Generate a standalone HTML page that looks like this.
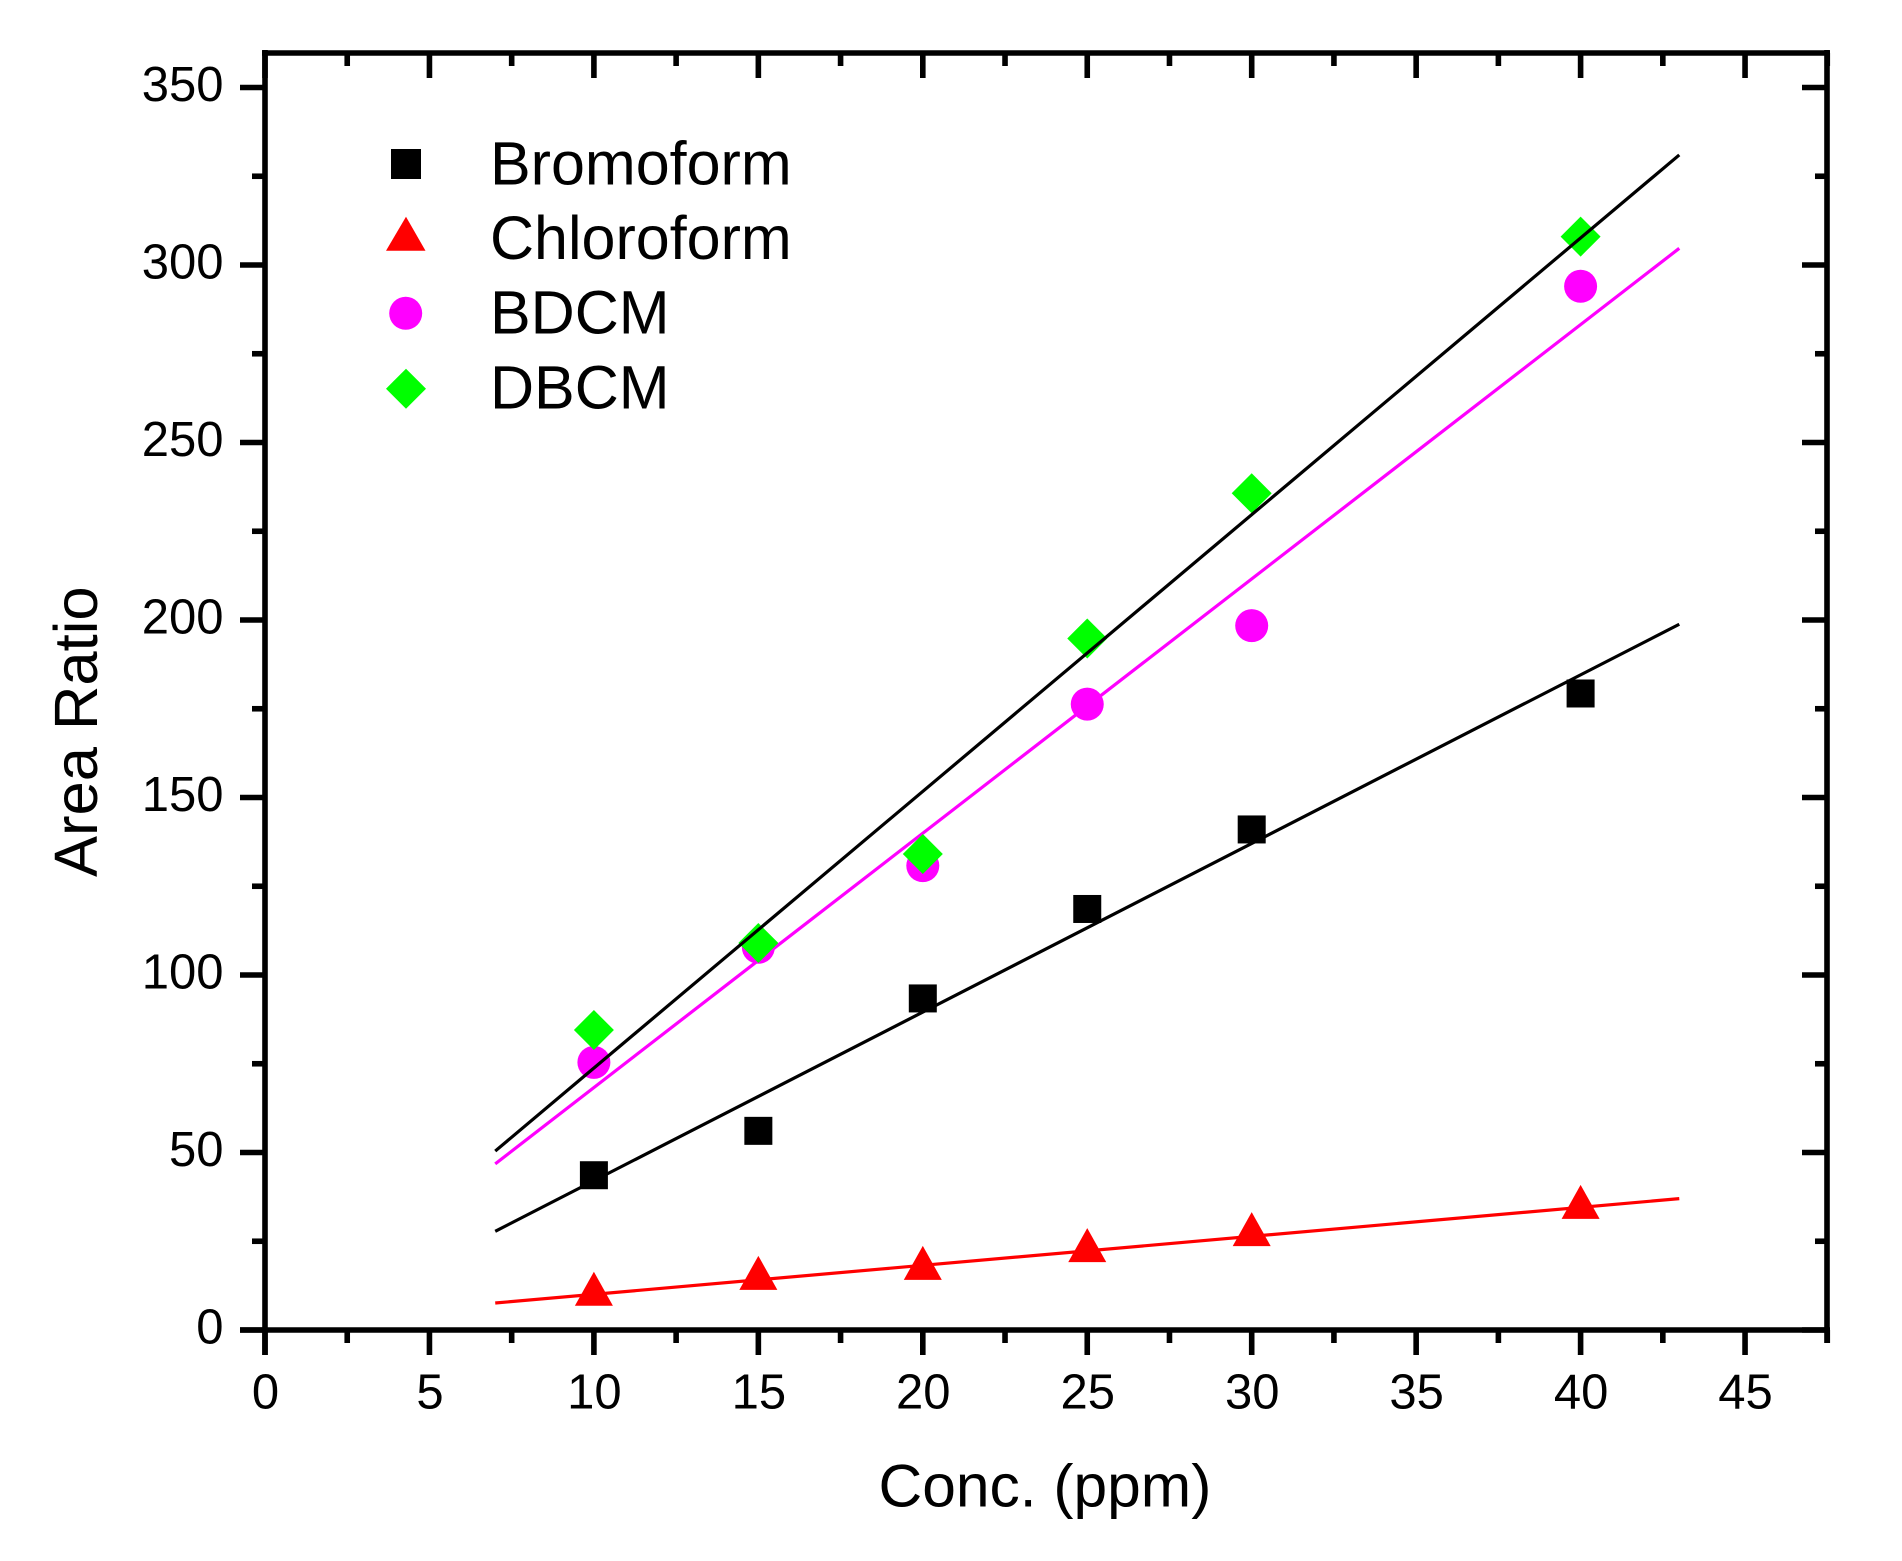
<!DOCTYPE html>
<html lang="en">
<head>
<meta charset="utf-8">
<title>Area Ratio vs Concentration</title>
<style>
html,body{margin:0;padding:0;background:#fff;width:1902px;height:1561px;overflow:hidden}
svg{display:block}
text{font-family:"Liberation Sans",Arial,sans-serif;fill:#000}
.tick{font-size:49px}
.title{font-size:60.5px}
.legend-text{font-size:61px}
.y-title{font-size:61.5px}
</style>
</head>
<body>
<svg id="chart" xmlns="http://www.w3.org/2000/svg" width="1902" height="1561" viewBox="0 0 1902 1561">
  <g id="fits"></g>
  <g id="marks"></g>
  <g id="topfit"></g>
  <g id="axes"></g>
  <g id="legend">
    <rect x="391" y="149" width="30" height="30" fill="#000"/>
    <text class="legend-text" x="490" y="184.3">Bromoform</text>
    <polygon points="406,216.7 425.5,250.7 386,250.7" fill="#f00"/>
    <text class="legend-text" x="490" y="259">Chloroform</text>
    <circle cx="405.7" cy="313.3" r="16.5" fill="#f0f"/>
    <text class="legend-text" x="490" y="333.3">BDCM</text>
    <polygon points="406,368.7 426,388.7 406,408.7 386,388.7" fill="#0f0"/>
    <text class="legend-text" x="490" y="408.3">DBCM</text>
  </g>
  <text class="title" x="878.5" y="1506.7">Conc. (ppm)</text>
  <text class="y-title" transform="translate(96.8 877) rotate(-90)">Area Ratio</text>
</svg>
<script>
const concentrations = [10, 15, 20, 25, 30, 40];
const bromoform = [43.6, 56.1, 93.4, 118.6, 141, 179.3];
const chloroform = [10.2, 14.7, 17.5, 22.5, 27, 34.7];
const bdcm = [75.4, 107.8, 130.8, 176.3, 198.4, 294];
const dbcm = [84.5, 109, 134.1, 194.8, 235.7, 308];

const fitX = [7, 43];
const bromoformFit = [27.8, 198.8];
const chloroformFit = [7.6, 37];
const bdcmFit = [46.8, 304.7];
const dbcmFit = [50.4, 331];

const xMajorTicks = [0, 5, 10, 15, 20, 25, 30, 35, 40, 45];
const xMinorTicks = [2.5, 7.5, 12.5, 17.5, 22.5, 27.5, 32.5, 37.5, 42.5, 47.5];
const yMajorTicks = [0, 50, 100, 150, 200, 250, 300, 350];
const yMinorTicks = [25, 75, 125, 175, 225, 275, 325];

const NS = 'http://www.w3.org/2000/svg';
function xScale(v) { return 265 + v * 32.89; }
function yScale(v) { return 1330 - v * 3.55; }
function make(tag, attrs, parent) {
  const el = document.createElementNS(NS, tag);
  for (const k in attrs) el.setAttribute(k, attrs[k]);
  parent.appendChild(el);
  return el;
}

const fits = document.getElementById('fits');
const marks = document.getElementById('marks');
const topfit = document.getElementById('topfit');
const axes = document.getElementById('axes');

function drawFit(values, color, parent, name) {
  const line = make('line', {x1: xScale(fitX[0]), y1: yScale(values[0]), x2: xScale(fitX[1]), y2: yScale(values[1]), stroke: color, 'stroke-width': 3.2}, parent);
  
  
}
drawFit(bdcmFit, '#f0f', fits, 'bdcm-fit-line');
drawFit(chloroformFit, '#f00', fits, 'chloroform-fit-line');
drawFit(bromoformFit, '#000', fits, 'bromoform-fit-line');
drawFit(dbcmFit, '#000', topfit, 'dbcm-fit-line');

concentrations.forEach(function (c, i) {
  const cx = xScale(c);
  const sy = yScale(bromoform[i]);
  const square = make('rect', {x: cx - 14, y: sy - 14, width: 28, height: 28, fill: '#000'}, marks);
  
  
});
concentrations.forEach(function (c, i) {
  const cx = xScale(c);
  const ty = yScale(chloroform[i]);
  const tri = make('polygon', {points: cx + ',' + (ty - 22) + ' ' + (cx + 19) + ',' + (ty + 12) + ' ' + (cx - 19) + ',' + (ty + 12), fill: '#f00'}, marks);
  
  
});
concentrations.forEach(function (c, i) {
  const circle = make('circle', {cx: xScale(c), cy: yScale(bdcm[i]), r: 16.5, fill: '#f0f'}, marks);
  
  
});
concentrations.forEach(function (c, i) {
  const cx = xScale(c);
  const dy = yScale(dbcm[i]);
  const diamond = make('polygon', {points: cx + ',' + (dy - 20) + ' ' + (cx + 20) + ',' + dy + ' ' + cx + ',' + (dy + 20) + ' ' + (cx - 20) + ',' + dy, fill: '#0f0'}, marks);
  
  
});

function seg(x1, y1, x2, y2, name) {
  const l = make('line', {x1: x1, y1: y1, x2: x2, y2: y2, stroke: '#000', 'stroke-width': 5.6}, axes);
  
  
}
const L = 265, R = 1827, T = 53, B = 1330;
seg(L, T - 3, L, 1355, 'left-spine');
seg(R, T - 3, R, 1343, 'right-spine');
seg(L - 3, T, R + 3, T, 'top-spine');
seg(240, B, R + 3, B, 'bottom-spine');

xMajorTicks.forEach(function (v) {
  const x = xScale(v);
  seg(x, B, x, 1355, 'x-major-tick');
  seg(x, T, x, 78, 'x-major-tick-top');
  const label = make('text', {x: x + 0.5, y: 1408.5, 'text-anchor': 'middle', 'class': 'tick'}, axes);
  
  
  label.textContent = v;
});
xMinorTicks.forEach(function (v) {
  const x = xScale(v);
  seg(x, B, x, 1343, 'x-minor-tick');
  seg(x, T, x, 66, 'x-minor-tick-top');
});
yMajorTicks.forEach(function (v) {
  const y = yScale(v);
  seg(240, y, L, y, 'y-major-tick');
  seg(1802, y, R, y, 'y-major-tick-right');
  const label = make('text', {x: 223.5, y: y + 13.5, 'text-anchor': 'end', 'class': 'tick'}, axes);
  
  
  label.textContent = v;
});
yMinorTicks.forEach(function (v) {
  const y = yScale(v);
  seg(252, y, L, y, 'y-minor-tick');
  seg(1815, y, R, y, 'y-minor-tick-right');
});
</script>
</body>
</html>
